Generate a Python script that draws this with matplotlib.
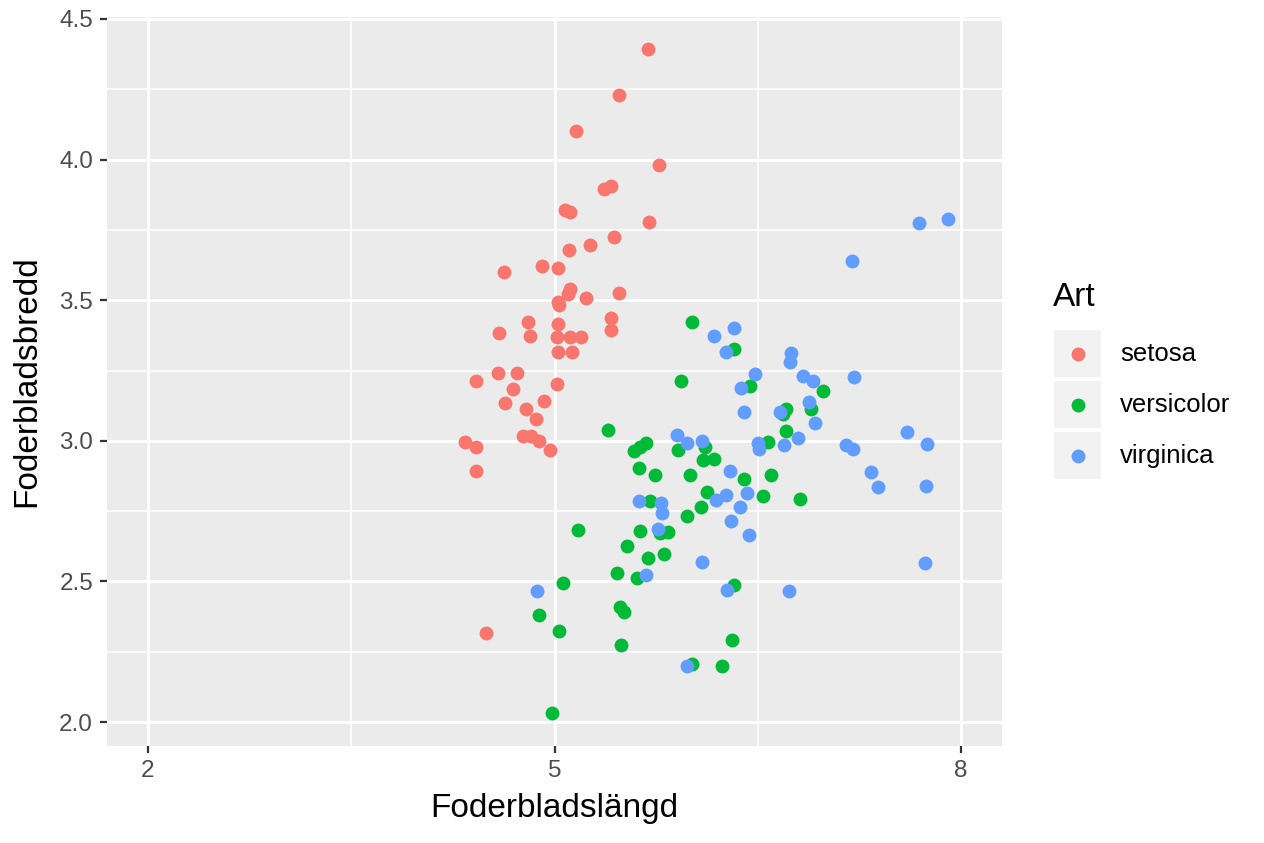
import matplotlib.pyplot as plt
from matplotlib.patches import Rectangle
from matplotlib.ticker import FixedLocator, FormatStrFormatter

plt.rcParams["font.family"] = ["Liberation Sans", "DejaVu Sans"]

setosa_x = [5.692, 5.479, 5.161, 5.774, 5.418, 5.366, 5.080, 5.117, 5.699, 5.440,
            5.264, 5.110, 4.631, 4.911, 5.029, 5.117, 5.103, 5.029, 5.036, 5.235,
            5.478, 4.807, 4.593, 4.822, 5.029, 5.021, 5.117, 5.198, 5.029, 5.132,
            5.418, 5.418, 4.586, 4.726, 4.424, 4.697, 5.021, 4.638, 4.926, 4.793,
            4.867, 4.771, 4.830, 4.889, 4.970, 4.343, 4.424, 4.424, 4.498]
setosa_y = [4.393, 4.230, 4.102, 3.981, 3.906, 3.895, 3.820, 3.813, 3.778, 3.724,
            3.697, 3.679, 3.600, 3.621, 3.614, 3.540, 3.522, 3.494, 3.483, 3.507,
            3.525, 3.422, 3.383, 3.372, 3.415, 3.369, 3.369, 3.369, 3.315, 3.315,
            3.436, 3.393, 3.241, 3.241, 3.212, 3.184, 3.201, 3.134, 3.141, 3.113,
            3.078, 3.017, 3.017, 2.999, 2.968, 2.995, 2.977, 2.892, 2.316]

versicolor_x = [6.016, 5.935, 5.396, 6.321, 6.446, 6.984, 6.711, 6.689, 6.895, 6.711,
                6.579, 5.678, 5.633, 5.589, 6.107, 5.914, 6.099, 6.180, 5.626, 5.744,
                6.003, 6.395, 6.601, 6.128, 6.542, 6.815, 5.707, 6.078, 5.974, 5.633,
                5.781, 5.840, 5.537, 5.692, 5.810, 5.464, 5.611, 6.321, 5.486, 5.516,
                6.313, 5.493, 6.016, 6.237, 5.176, 5.065, 4.889, 5.036, 4.985]
versicolor_y = [3.422, 3.212, 3.038, 3.326, 3.194, 3.177, 3.113, 3.095, 3.113, 3.034,
                2.995, 2.992, 2.977, 2.963, 2.977, 2.966, 2.931, 2.935, 2.903, 2.878,
                2.878, 2.864, 2.878, 2.817, 2.803, 2.793, 2.785, 2.764, 2.732, 2.679,
                2.672, 2.675, 2.625, 2.583, 2.597, 2.530, 2.512, 2.487, 2.408, 2.390,
                2.292, 2.274, 2.206, 2.199, 2.683, 2.494, 2.380, 2.323, 2.031]

virginica_x = [7.693, 7.907, 7.192, 6.746, 6.739, 6.480, 6.835, 6.909, 7.207, 6.880,
               6.666, 6.924, 6.799, 6.695, 7.603, 7.751, 7.148, 7.199, 7.332, 7.384,
               7.743, 7.736, 6.732, 6.321, 6.180, 6.269, 6.378, 6.395, 6.502, 6.510,
               5.906, 5.981, 6.091, 6.298, 6.422, 6.269, 6.195, 6.370, 5.626, 5.788,
               5.796, 6.306, 5.766, 6.436, 6.091, 5.678, 6.276, 5.974, 4.874]
virginica_y = [3.774, 3.789, 3.639, 3.312, 3.280, 3.237, 3.230, 3.212, 3.226, 3.137,
               3.102, 3.063, 3.009, 2.985, 3.031, 2.989, 2.985, 2.971, 2.889, 2.836,
               2.839, 2.565, 2.465, 3.401, 3.372, 3.315, 3.187, 3.102, 2.992, 2.971,
               3.020, 2.992, 2.999, 2.893, 2.814, 2.807, 2.790, 2.764, 2.785, 2.779,
               2.743, 2.715, 2.686, 2.665, 2.569, 2.523, 2.469, 2.198, 2.465]

species = ["setosa", "versicolor", "virginica"]
colors = ["#F8766D", "#00BA38", "#619CFF"]
series = [(setosa_x, setosa_y), (versicolor_x, versicolor_y), (virginica_x, virginica_y)]

x_major = [2, 5, 8]
x_minor = [3.5, 6.5]
y_major = [2.0, 2.5, 3.0, 3.5, 4.0, 4.5]
y_minor = [2.25, 2.75, 3.25, 3.75, 4.25]

fig = plt.figure(figsize=(12.64, 8.43), dpi=100)
ax = fig.add_axes([107 / 1264, 1 - 746 / 843, 895 / 1264, 729 / 843])
ax.set_facecolor("#EBEBEB")

for (xs, ys), col in zip(series, colors):
    ax.scatter(xs, ys, s=100, color=col, linewidths=0, zorder=3)

ax.set_xlim(1.698, 8.302)
ax.set_ylim(1.915, 4.507)
ax.xaxis.set_major_locator(FixedLocator(x_major))
ax.xaxis.set_minor_locator(FixedLocator(x_minor))
ax.yaxis.set_major_locator(FixedLocator(y_major))
ax.yaxis.set_minor_locator(FixedLocator(y_minor))
ax.yaxis.set_major_formatter(FormatStrFormatter("%.1f"))
ax.xaxis.set_major_formatter(FormatStrFormatter("%d"))

ax.grid(which="major", color="white", linewidth=2.1)
ax.grid(which="minor", color="white", linewidth=1.1)
ax.set_axisbelow(True)
for sp in ax.spines.values():
    sp.set_visible(False)

ax.tick_params(which="major", length=5, width=1.6, color="#333333",
               labelcolor="#4D4D4D", labelsize=17.5, pad=5)
ax.tick_params(which="minor", length=0)

ax.set_xlabel("Foderbladslängd", fontsize=24, color="black", va="center")
ax.xaxis.set_label_coords(0.5, (746 - 808) / 729)
ax.set_ylabel("Foderbladsbredd", fontsize=24, color="black", va="center")
ax.yaxis.set_label_coords((27 - 107) / 895, 0.5)

# Legend drawn by hand to get the ggplot key boxes
fig.text(1053 / 1264, 1 - 297 / 843, "Art", fontsize=24, va="center", ha="left")
key_tops = [330, 381, 432]
leg = fig.add_axes([1054 / 1264, 1 - 480 / 843, 47 / 1264, 150 / 843])
leg.set_xlim(0, 47)
leg.set_ylim(480, 330)
leg.axis("off")
for top, name, col in zip(key_tops, species, colors):
    leg.add_patch(Rectangle((0, top), 47, 47, facecolor="#F2F2F2", edgecolor="none"))
    leg.scatter([23.5], [top + 23.5], s=100, color=col, linewidths=0, zorder=3)
    fig.text(1120 / 1264, 1 - (top + 24) / 843, name, fontsize=18.5,
             va="center", ha="left")

fig.savefig("out.png", dpi=100)
